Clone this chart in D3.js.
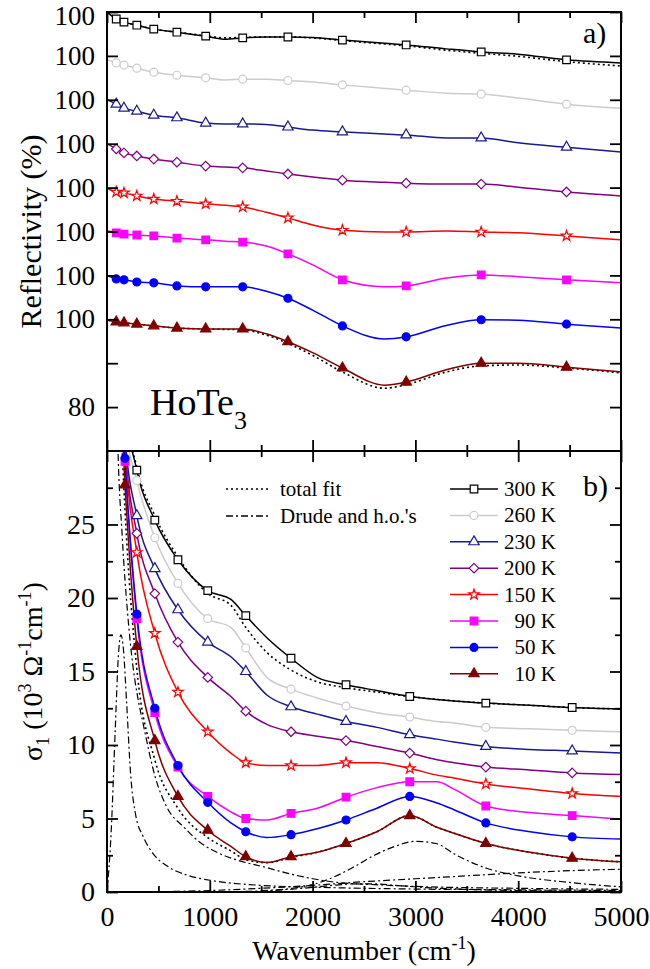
<!DOCTYPE html>
<html>
<head>
<meta charset="utf-8">
<script src="https://cdn.jsdelivr.net/npm/d3@7"></script>
<style>
body { margin: 0; background: #fff; }
svg text { font-family: "Liberation Serif", "DejaVu Serif", serif; fill: #000; }
</style>
</head>
<body>
<svg id="chart"></svg>
<script>
// ---- series labels ----
const temps = ["300 K", "260 K", "230 K", "200 K", "150 K", "90 K", "50 K", "10 K"];
const offsets = [70, 60, 50, 40, 30, 20, 10, 0];   // reflectivity offset of each curve

// ---- panel a : reflectivity (%) ----
const wnR = [10, 90, 165, 290, 455, 680, 960, 1150, 1320, 1550, 1760, 2000, 2290, 2700, 2910, 3300, 3640, 4000, 4470, 5000];
const markR = [1, 2, 3, 4, 5, 6, 8, 10, 12, 14, 16, 18];
const refl300 = [99.8, 98.4, 97.7, 97.0, 96.1, 95.4, 94.5, 93.8, 94.1, 94.3, 94.3, 94.2, 93.6, 92.9, 92.5, 91.6, 90.9, 90.4, 89.1, 88.4];
const refl260 = [99.1, 98.4, 97.9, 97.2, 96.3, 95.6, 95.0, 94.5, 94.7, 94.7, 94.4, 94.05, 93.4, 92.6, 92.2, 91.5, 91.3, 90.4, 89.0, 88.1];
const refl230 = [100.0, 99.0, 98.1, 97.4, 96.5, 95.9, 94.7, 94.5, 94.5, 94.4, 93.8, 93.1, 92.7, 92.2, 92.0, 91.3, 91.3, 90.2, 89.2, 88.1];
const refl200 = [99.9, 98.8, 97.9, 97.2, 96.5, 95.8, 94.9, 94.7, 94.5, 93.8, 93.1, 92.4, 91.7, 91.2, 91.0, 90.8, 90.8, 90.1, 89.0, 88.1];
const refl150 = [99.7, 99.0, 98.8, 98.1, 97.4, 96.9, 96.3, 96.0, 95.6, 94.4, 93.1, 91.5, 90.3, 89.9, 89.9, 90.1, 89.9, 89.7, 89.0, 88.1];
const refl90  = [100.1, 99.7, 99.4, 99.2, 99.0, 98.5, 98.1, 97.8, 97.6, 96.7, 94.9, 92.4, 89.0, 87.4, 87.6, 89.4, 90.1, 89.7, 89.0, 88.3];
const refl50  = [99.9, 99.2, 99.0, 98.5, 98.3, 97.6, 97.4, 97.4, 97.4, 96.4, 94.8, 92.1, 88.5, 85.5, 86.0, 88.6, 89.9, 89.8, 88.9, 88.0];
const refl10  = [99.8, 99.4, 99.2, 98.9, 98.5, 98.0, 97.8, 97.8, 97.8, 96.7, 94.9, 92.4, 88.9, 85.0, 85.7, 88.5, 90.0, 90.0, 89.1, 88.0];
const fitR300 = [99.8, 98.4, 97.7, 97.0, 96.1, 95.4, 94.6, 94.1, 94.2, 94.3, 94.3, 94.1, 93.5, 92.7, 92.3, 91.3, 90.6, 89.9, 88.7, 87.7];
const fitR10  = [99.8, 99.4, 99.2, 98.9, 98.5, 98.0, 97.8, 97.7, 97.6, 96.4, 94.5, 91.8, 88.0, 84.3, 85.1, 88.0, 89.4, 89.6, 88.9, 87.8];

// ---- panel b : sigma_1 (10^3 Ohm^-1 cm^-1) ----
const wnS = [100, 175, 290, 465, 690, 980, 1205, 1350, 1555, 1790, 2045, 2325, 2625, 2945, 3210, 3375, 3685, 4115, 4525, 5000];
const markS = [1, 2, 3, 4, 5, 7, 9, 11, 13, 16, 18];
const sig300 = [48, 33.5, 28.7, 25.3, 22.6, 20.5, 19.9, 18.8, 17.3, 15.9, 14.6, 14.1, 13.7, 13.3, 13.1, 13.0, 12.85, 12.7, 12.55, 12.45];
const sig260 = [46, 32, 28.0, 24.1, 21.0, 18.6, 18.0, 16.6, 14.6, 13.8, 13.2, 12.65, 12.2, 11.9, 11.6, 11.5, 11.2, 11.1, 11.0, 10.9];
const sig230 = [44, 31, 25.6, 22.0, 19.2, 17.0, 16.0, 15.0, 13.4, 12.6, 12.1, 11.6, 11.2, 10.7, 10.4, 10.2, 9.9, 9.7, 9.6, 9.45];
const sig200 = [43, 30.5, 24.4, 20.3, 17.0, 14.6, 13.3, 12.3, 11.4, 10.9, 10.6, 10.3, 9.9, 9.45, 9.0, 8.8, 8.5, 8.3, 8.1, 8.0];
const sig150 = [42, 30.2, 23.1, 17.6, 13.6, 10.9, 9.45, 8.8, 8.6, 8.6, 8.6, 8.8, 8.8, 8.4, 7.95, 7.75, 7.35, 7.0, 6.7, 6.5];
const sig90  = [41, 29.3, 18.6, 12.2, 8.5, 6.5, 5.45, 5.0, 4.9, 5.35, 5.7, 6.45, 7.1, 7.5, 7.5, 7.0, 5.85, 5.4, 5.2, 4.95];
const sig50  = [41, 29.5, 18.9, 12.5, 8.6, 6.1, 4.7, 4.1, 3.7, 3.9, 4.3, 4.9, 5.7, 6.5, 6.05, 5.6, 4.7, 4.1, 3.75, 3.6];
const sig10  = [38, 27.7, 16.7, 10.3, 6.5, 4.2, 3.1, 2.4, 2.0, 2.4, 2.7, 3.3, 4.1, 5.2, 4.4, 4.0, 3.3, 2.7, 2.3, 2.05];
const fitS300 = [48, 33.5, 28.9, 25.6, 22.8, 20.3, 19.5, 18.0, 16.3, 15.1, 14.3, 13.9, 13.6, 13.3, 13.1, 13.0, 12.85, 12.7, 12.55, 12.45];
const fitS10  = [38, 26, 15.2, 9.0, 5.7, 3.7, 2.8, 2.2, 2.0, 2.35, 2.7, 3.3, 4.1, 5.2, 4.4, 4.0, 3.3, 2.7, 2.3, 2.05];

// fit components (Drude and harmonic oscillators), 10 K
const wnHo1 = [0, 40, 80, 110, 135, 160, 190, 230, 280, 350, 450, 600, 800, 1000, 1500, 2000, 3000, 4000, 5000];
const ho1   = [0, 4, 11, 16, 17.5, 16.5, 13, 8, 5.2, 3.8, 2.6, 1.7, 1.1, 0.8, 0.45, 0.33, 0.2, 0.15, 0.1];
const wnDrude = [0, 60, 100, 150, 200, 250, 300, 350, 470, 580, 750, 900, 1070, 1300, 1530, 1800, 2240, 2600, 3000, 4000, 5000];
const drude   = [90, 50, 32, 24, 19, 15.5, 13.2, 11.5, 7.8, 5.8, 4.4, 3.4, 2.7, 2.1, 1.7, 1.2, 0.65, 0.5, 0.38, 0.25, 0.18];
const wnHo3 = [1500, 1800, 2000, 2200, 2400, 2600, 2800, 3000, 3200, 3400, 3700, 4000, 4500, 5000];
const ho3   = [0.1, 0.25, 0.5, 1.0, 1.7, 2.5, 3.1, 3.45, 3.3, 2.5, 1.6, 1.1, 0.65, 0.35];
const wnHo4 = [500, 1000, 1500, 2000, 2500, 3000, 3500, 4000, 4500, 5000];
const ho4   = [0.02, 0.1, 0.25, 0.45, 0.7, 0.9, 1.1, 1.3, 1.45, 1.55];
const wnHo5 = [1200, 1600, 1900, 2200, 2400, 2600, 2800, 3100, 3500, 4000, 5000];
const ho5   = [0.02, 0.1, 0.25, 0.45, 0.55, 0.55, 0.45, 0.3, 0.18, 0.1, 0.05];

// ---- ticks ----
const xMajor = [0, 1000, 2000, 3000, 4000, 5000];
const xMinor = [500, 1500, 2500, 3500, 4500];
const rTicks = [80, 90, 100, 110, 120, 130, 140, 150, 160, 170];
const rTickLabels = ["80", "", "100", "100", "100", "100", "100", "100", "100", "100"];
const sMajor = [0, 5, 10, 15, 20, 25];
const sMinor = [2.5, 7.5, 12.5, 17.5, 22.5, 27.5];

const reflSeries = [refl300, refl260, refl230, refl200, refl150, refl90, refl50, refl10];
const sigSeries = [sig300, sig260, sig230, sig200, sig150, sig90, sig50, sig10];

// ---- styles ----
const colors = ["#000000", "#cccccc", "#1a1a8c", "#800080", "#ff0000", "#ff00ff", "#0000ff", "#800000"];
const shapes = ["square", "circle", "triangle", "diamond", "star", "square", "circle", "triangle"];
const filled = [false, false, false, false, false, true, true, true];
const serif = '"Liberation Serif", "DejaVu Serif", serif';

const W = 650, H = 969;
const pL = 107, pR = 621, pT = 12, pM = 451, pB = 892;

const svg = d3.select('#chart').attr('width', W).attr('height', H)
    .attr('font-family', serif);

const x = d3.scaleLinear().domain([0, 5000]).range([pL, pR]);
const yR = d3.scaleLinear().domain([70, 170]).range([pM, pT]);
const yS = d3.scaleLinear().domain([0, 30]).range([pB, pM]);

const defs = svg.append('defs');
defs.append('clipPath').attr('id', 'clipA').append('rect')
    .attr('x', pL).attr('y', pT).attr('width', pR - pL).attr('height', pM - pT);
defs.append('clipPath').attr('id', 'clipB').append('rect')
    .attr('x', pL).attr('y', pM).attr('width', pR - pL).attr('height', pB - pM);

const symbolType = {
    square: d3.symbolSquare,
    circle: d3.symbolCircle,
    triangle: d3.symbolTriangle,
    diamond: d3.symbolDiamond2 || d3.symbolDiamond,
    star: d3.symbolStar
};
const symbolSize = { square: 58, circle: 50, triangle: 46, diamond: 58, star: 34 };

function drawLine(g, yscale, wn, vals, off, color, dash, lw) {
    const line = d3.line()
        .x(d => x(d[0]))
        .y(d => yscale(d[1] + off))
        .curve(d3.curveMonotoneX);
    g.append('path')
        .attr('d', line(wn.map((w, i) => [w, vals[i]])))
        .attr('fill', 'none')
        .attr('stroke', color)
        .attr('stroke-width', lw)
        .attr('stroke-dasharray', dash);
}

function drawMarkers(g, yscale, wn, vals, off, idx, k, ymax) {
    const pts = idx.map(i => [wn[i], vals[i] + off]).filter(d => d[1] <= ymax);
    g.selectAll(null).data(pts).join('path')
        .attr('transform', d => `translate(${x(d[0])},${yscale(d[1])})`)
        .attr('d', d3.symbol(symbolType[shapes[k]], symbolSize[shapes[k]]))
        .attr('fill', filled[k] ? colors[k] : '#fff')
        .attr('stroke', colors[k])
        .attr('stroke-width', 1.2);
}

// ---- panel a ----
const gA = svg.append('g').attr('clip-path', 'url(#clipA)');
drawLine(gA, yR, wnR, fitR300, offsets[0], '#000', '2,3', 1.6);
drawLine(gA, yR, wnR, fitR10, offsets[7], '#000', '2,3', 1.6);
reflSeries.forEach((s, k) => drawLine(gA, yR, wnR, s, offsets[k], colors[k], null, 1.5));
reflSeries.forEach((s, k) => drawMarkers(gA, yR, wnR, s, offsets[k], markR, k, 171));

// ---- panel b ----
const gB = svg.append('g').attr('clip-path', 'url(#clipB)');
const dashDot = '7,3,2,3';
drawLine(gB, yS, wnHo1, ho1, 0, '#000', dashDot, 1.2);
drawLine(gB, yS, wnDrude, drude, 0, '#000', dashDot, 1.2);
drawLine(gB, yS, wnHo3, ho3, 0, '#000', dashDot, 1.2);
drawLine(gB, yS, wnHo4, ho4, 0, '#000', dashDot, 1.2);
drawLine(gB, yS, wnHo5, ho5, 0, '#000', dashDot, 1.2);
drawLine(gB, yS, wnS, fitS300, 0, '#000', '2,3', 1.6);
drawLine(gB, yS, wnS, fitS10, 0, '#000', '2,3', 1.6);
sigSeries.forEach((s, k) => drawLine(gB, yS, wnS, s, 0, colors[k], null, 1.5));
const gBm = svg.append('g');
sigSeries.forEach((s, k) => drawMarkers(gBm, yS, wnS, s, 0, markS, k, 30));

// ---- axes (ticks point inward) ----
function addAxis(axis, tx, ty, fontSize) {
    const g = svg.append('g')
        .attr('transform', `translate(${tx},${ty})`)
        .call(axis)
        .attr('font-family', serif)
        .attr('font-size', fontSize);
    g.select('.domain').remove();
    g.selectAll('line').attr('stroke', '#000').attr('stroke-width', 1.8);
    g.selectAll('text').style('font-size', fontSize + 'px').style('font-family', serif);
    return g;
}
const majLen = 11, minLen = 6;

// horizontal borders
addAxis(d3.axisBottom(x).tickValues(xMajor).tickSize(majLen).tickFormat(''), 0, pT, 1);
addAxis(d3.axisBottom(x).tickValues(xMinor).tickSize(minLen).tickFormat(''), 0, pT, 1);
addAxis(d3.axisTop(x).tickValues(xMajor).tickSize(majLen).tickFormat(''), 0, pM, 1);
addAxis(d3.axisTop(x).tickValues(xMinor).tickSize(minLen).tickFormat(''), 0, pM, 1);
addAxis(d3.axisBottom(x).tickValues(xMajor).tickSize(majLen).tickFormat(''), 0, pM, 1);
addAxis(d3.axisBottom(x).tickValues(xMinor).tickSize(minLen).tickFormat(''), 0, pM, 1);
addAxis(d3.axisTop(x).tickValues(xMajor).tickSize(majLen).tickFormat(''), 0, pB, 1);
addAxis(d3.axisTop(x).tickValues(xMinor).tickSize(minLen).tickFormat(''), 0, pB, 1);
addAxis(d3.axisBottom(x).tickValues(xMajor).tickSize(0).tickPadding(14).tickFormat(d3.format('d')), 0, pB, 28);

// panel a vertical
addAxis(d3.axisRight(yR).tickValues(rTicks).tickSize(majLen).tickFormat(''), pL, 0, 1);
addAxis(d3.axisLeft(yR).tickValues(rTicks).tickSize(majLen).tickFormat(''), pR, 0, 1);
const rLab = addAxis(d3.axisLeft(yR).tickValues(rTicks).tickSize(0).tickPadding(12)
    .tickFormat((d, i) => rTickLabels[i]), pL, 0, 27);
rLab.selectAll('text').filter(d => d === 170).attr('dy', '0.45em');

// panel b vertical
addAxis(d3.axisRight(yS).tickValues(sMajor).tickSize(majLen).tickFormat(''), pL, 0, 1);
addAxis(d3.axisRight(yS).tickValues(sMinor).tickSize(minLen).tickFormat(''), pL, 0, 1);
addAxis(d3.axisLeft(yS).tickValues(sMajor).tickSize(majLen).tickFormat(''), pR, 0, 1);
addAxis(d3.axisLeft(yS).tickValues(sMinor).tickSize(minLen).tickFormat(''), pR, 0, 1);
addAxis(d3.axisLeft(yS).tickValues(sMajor).tickSize(0).tickPadding(12).tickFormat(d3.format('d')), pL, 0, 28);

// frames
svg.append('rect')
    .attr('x', pL).attr('y', pT).attr('width', pR - pL).attr('height', pB - pT)
    .attr('fill', 'none').attr('stroke', '#000').attr('stroke-width', 2);
svg.append('line')
    .attr('x1', pL).attr('x2', pR).attr('y1', pM).attr('y2', pM)
    .attr('stroke', '#000').attr('stroke-width', 2);

// ---- titles ----
svg.append('text')
    .attr('transform', `translate(41,${(pT + pM) / 2}) rotate(-90)`)
    .attr('text-anchor', 'middle')
    .style('font-size', '30px')
    .text('Reflectivity (%)');

const sigLabel = svg.append('text')
    .attr('transform', `translate(42,${(pM + pB) / 2}) rotate(-90)`)
    .attr('text-anchor', 'middle')
    .style('font-size', '28px');
sigLabel.append('tspan').text('σ');
sigLabel.append('tspan').attr('dy', 7).style('font-size', '18px').text('1');
sigLabel.append('tspan').attr('dy', -7).text(' (10');
sigLabel.append('tspan').attr('dy', -11).style('font-size', '18px').text('3');
sigLabel.append('tspan').attr('dy', 11).text(' Ω');
sigLabel.append('tspan').attr('dy', -11).style('font-size', '18px').text('-1');
sigLabel.append('tspan').attr('dy', 11).text('cm');
sigLabel.append('tspan').attr('dy', -11).style('font-size', '18px').text('-1');
sigLabel.append('tspan').attr('dy', 11).text(')');

const xLabel = svg.append('text')
    .attr('x', (pL + pR) / 2).attr('y', 960)
    .attr('text-anchor', 'middle')
    .style('font-size', '28px');
xLabel.append('tspan').text('Wavenumber (cm');
xLabel.append('tspan').attr('dy', -11).style('font-size', '18px').text('-1');
xLabel.append('tspan').attr('dy', 11).text(')');

const hoTe = svg.append('text').attr('x', 150).attr('y', 415).style('font-size', '38px');
hoTe.append('tspan').text('HoTe');
hoTe.append('tspan').attr('dy', 14).style('font-size', '26px').text('3');

svg.append('text').attr('x', 583).attr('y', 43).style('font-size', '30px').text('a)');
svg.append('text').attr('x', 583).attr('y', 496).style('font-size', '30px').text('b)');

// ---- legends ----
const fitLegend = [['total fit', '2,3'], ["Drude and h.o.'s", dashDot]];
fitLegend.forEach((d, i) => {
    const yy = 489 + i * 27;
    svg.append('line').attr('x1', 226).attr('x2', 270).attr('y1', yy).attr('y2', yy)
        .attr('stroke', '#000').attr('stroke-width', 1.4).attr('stroke-dasharray', d[1]);
    svg.append('text').attr('x', 280).attr('y', yy + 7).style('font-size', '21px').text(d[0]);
});

temps.forEach((t, k) => {
    const yy = 489 + k * 26.4;
    svg.append('line').attr('x1', 450).attr('x2', 498).attr('y1', yy).attr('y2', yy)
        .attr('stroke', colors[k]).attr('stroke-width', 1.5);
    svg.append('path')
        .attr('transform', `translate(474,${yy})`)
        .attr('d', d3.symbol(symbolType[shapes[k]], symbolSize[shapes[k]]))
        .attr('fill', filled[k] ? colors[k] : '#fff')
        .attr('stroke', colors[k]).attr('stroke-width', 1.2);
    svg.append('text').attr('x', 556).attr('y', yy + 7)
        .attr('text-anchor', 'end').style('font-size', '21px').text(t);
});
</script>
</body>
</html>
